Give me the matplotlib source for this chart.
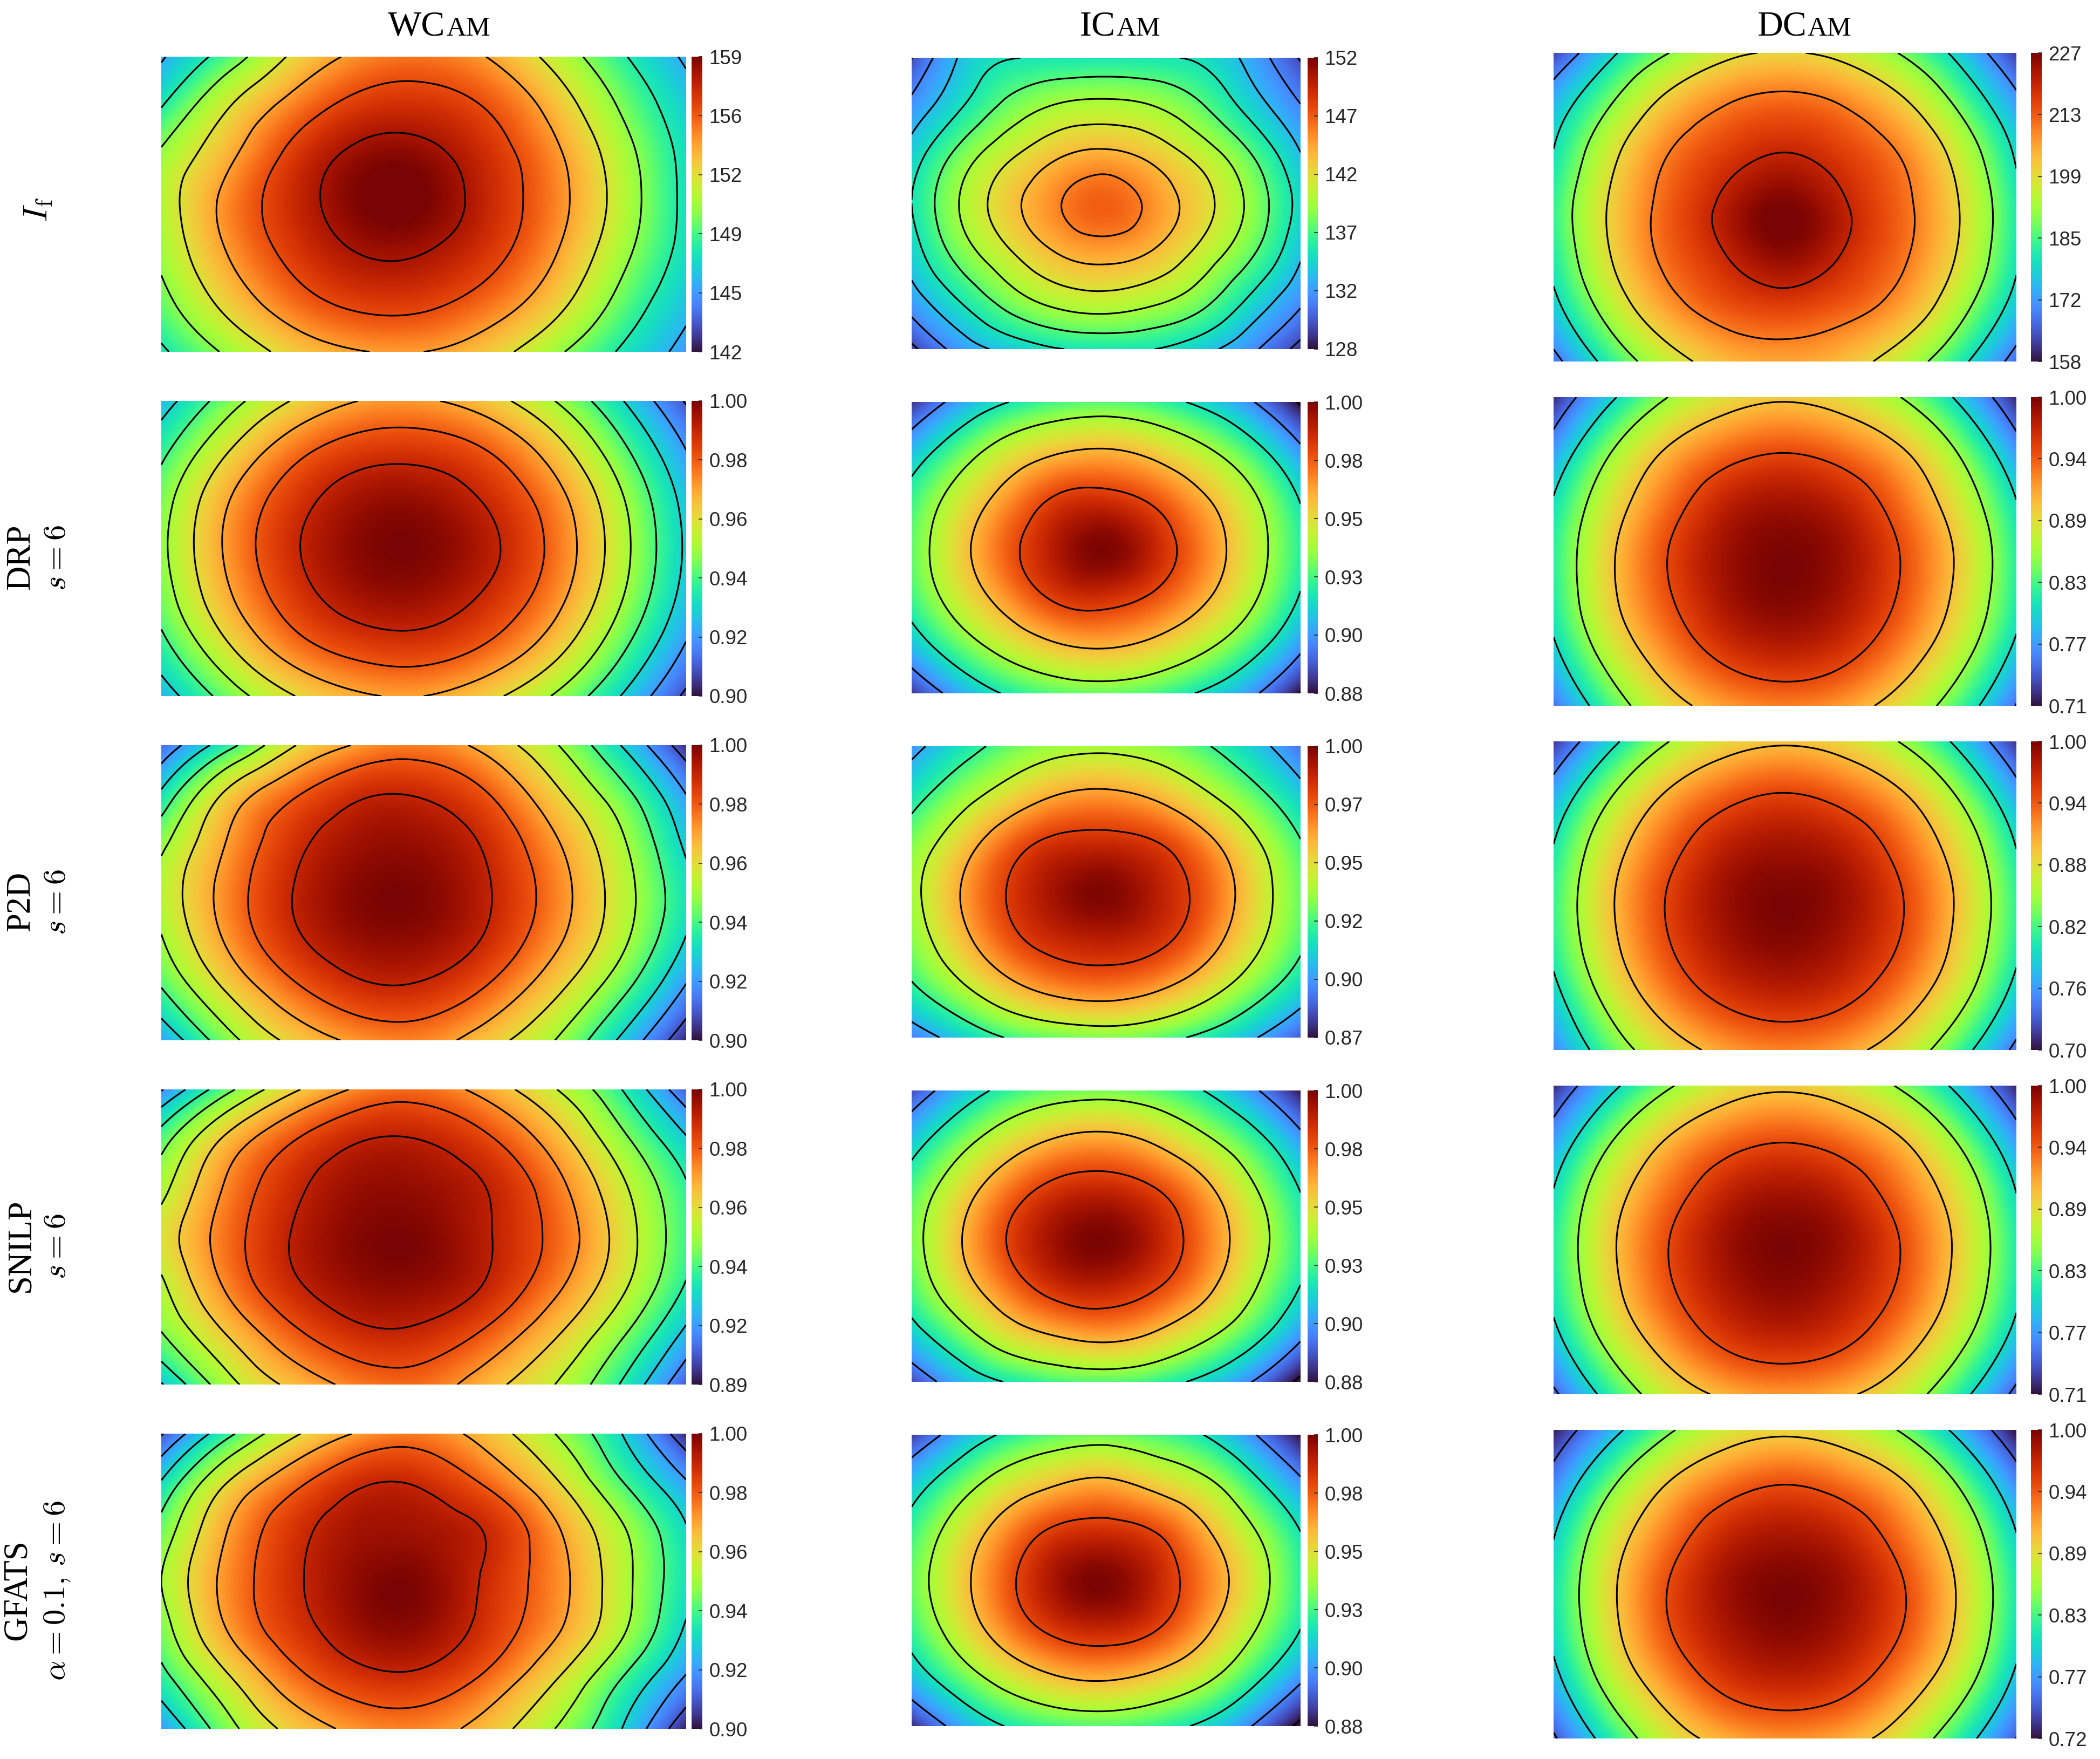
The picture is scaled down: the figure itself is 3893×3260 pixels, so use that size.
import numpy as np
import matplotlib
matplotlib.use('Agg')
import matplotlib.pyplot as plt
import matplotlib.tri as mtri

plt.rcParams['font.family'] = ['Liberation Sans', 'DejaVu Sans']
plt.rcParams['mathtext.fontset'] = 'cm'

# values on a 9 x 7 grid, top row first
wcam_if = [
    [145.8, 148.9, 152.3, 154.4, 155.0, 153.9, 151.3, 148.3, 145.7],
    [147.9, 151.8, 154.7, 156.6, 156.9, 155.8, 153.2, 149.8, 146.8],
    [150.3, 153.5, 156.5, 158.4, 158.5, 156.9, 154.4, 150.9, 147.4],
    [150.9, 154.5, 157.1, 158.9, 159.0, 157.2, 154.7, 151.2, 147.5],
    [150.4, 154.0, 156.5, 158.0, 158.0, 156.6, 154.1, 150.6, 147.3],
    [149.3, 152.6, 155.1, 156.4, 156.4, 155.1, 152.7, 149.4, 146.5],
    [147.7, 150.3, 152.7, 153.9, 154.0, 152.8, 150.4, 147.8, 145.4],
]
wcam_drp = [
    [.925, .945, .9605, .970, .971, .964, .950, .931, .909],
    [.937, .959, .976, .985, .986, .9795, .9645, .943, .920],
    [.945, .969, .9855, .995, .996, .9885, .974, .9515, .9265],
    [.9475, .9715, .9885, .998, .9994, .992, .977, .954, .9285],
    [.9445, .968, .985, .9945, .9955, .988, .9735, .951, .926],
    [.9365, .9585, .9755, .984, .9855, .9785, .964, .9425, .919],
    [.9245, .944, .9595, .9685, .970, .9625, .949, .930, .908],
]
wcam_p2d = [
    [.913, .936, .959, .971, .975, .966, .951, .930, .904],
    [.932, .962, .9785, .9885, .989, .980, .9625, .944, .920],
    [.9475, .9705, .987, .9955, .996, .988, .9715, .952, .928],
    [.953, .974, .990, .9985, .999, .9905, .975, .955, .933],
    [.949, .971, .9875, .996, .9965, .988, .972, .9525, .929],
    [.939, .9605, .977, .987, .9875, .978, .962, .9425, .918],
    [.921, .946, .9625, .972, .974, .964, .950, .9285, .903],
]
wcam_snilp = [
    [.909, .937, .958, .9715, .975, .9655, .9505, .9305, .902],
    [.935, .962, .979, .989, .9895, .981, .9645, .943, .921],
    [.9465, .9715, .9875, .996, .996, .9895, .974, .9525, .931],
    [.9545, .975, .9905, .9985, .999, .9905, .977, .956, .933],
    [.948, .9715, .988, .996, .9965, .9885, .9725, .9525, .929],
    [.939, .960, .977, .987, .987, .977, .961, .9415, .917],
    [.919, .946, .9625, .973, .975, .9635, .950, .9295, .902],
]
wcam_gfats = [
    [.909, .937, .958, .971, .975, .965, .950, .9305, .903],
    [.931, .960, .977, .9885, .9885, .978, .9615, .941, .921],
    [.944, .970, .9865, .995, .995, .989, .972, .952, .931],
    [.950, .973, .988, .9975, .9985, .988, .974, .954, .933],
    [.945, .970, .9855, .9955, .9965, .986, .9715, .952, .9285],
    [.936, .958, .976, .986, .987, .977, .9605, .940, .9185],
    [.920, .946, .963, .9725, .974, .965, .950, .9305, .902],
]
icam_if = [
    [129.9, 134.2, 135.9, 136.1, 136.2, 136.1, 135.6, 133.2, 129.8],
    [132.6, 135.8, 138.6, 140.2, 140.6, 140.0, 138.1, 135.1, 132.1],
    [134.9, 138.7, 141.6, 143.7, 144.5, 143.3, 141.1, 138.0, 134.1],
    [136.0, 140.1, 143.3, 145.8, 147.1, 145.3, 142.7, 139.4, 135.3],
    [135.0, 138.9, 141.8, 144.1, 144.9, 143.8, 141.3, 138.3, 134.3],
    [133.0, 136.1, 138.9, 140.7, 141.2, 140.4, 138.6, 135.5, 132.4],
    [129.5, 132.8, 134.6, 135.9, 136.2, 136.0, 134.6, 132.4, 129.3],
]
icam_drp = [
    [.885, .906, .920, .928, .930, .926, .916, .901, .878],
    [.910, .931, .948, .958, .961, .955, .943, .926, .903],
    [.926, .948, .967, .982, .985, .977, .962, .943, .919],
    [.931, .955, .976, .992, .9995, .988, .970, .948, .924],
    [.927, .949, .968, .983, .986, .978, .963, .943, .919],
    [.911, .932, .948, .959, .962, .956, .944, .927, .904],
    [.886, .907, .922, .930, .932, .928, .918, .903, .879],
]
icam_p2d = [
    [.895, .912, .926, .934, .936, .932, .922, .907, .888],
    [.913, .932, .948, .960, .963, .957, .943, .926, .906],
    [.929, .951, .972, .984, .986, .981, .966, .944, .921],
    [.935, .960, .981, .994, .999, .990, .975, .951, .926],
    [.930, .954, .975, .986, .989, .984, .969, .946, .923],
    [.917, .936, .954, .965, .968, .962, .948, .929, .909],
    [.890, .907, .921, .927, .930, .926, .916, .902, .883],
]
icam_snilp = [
    [.890, .910, .925, .932, .934, .930, .920, .903, .881],
    [.912, .933, .950, .961, .964, .957, .943, .926, .904],
    [.928, .951, .971, .984, .987, .980, .964, .942, .919],
    [.934, .959, .981, .995, .9995, .990, .972, .949, .924],
    [.929, .953, .973, .987, .990, .982, .966, .943, .920],
    [.914, .934, .952, .962, .966, .959, .945, .927, .904],
    [.889, .909, .921, .928, .930, .926, .916, .900, .876],
]
icam_gfats = [
    [.887, .908, .923, .931, .933, .929, .920, .902, .880],
    [.912, .932, .949, .959, .963, .955, .944, .925, .903],
    [.926, .949, .969, .983, .986, .980, .963, .942, .920],
    [.932, .955, .977, .994, .9995, .989, .971, .949, .924],
    [.926, .949, .970, .984, .988, .981, .964, .942, .920],
    [.911, .931, .948, .959, .962, .956, .944, .925, .903],
    [.884, .906, .921, .928, .930, .926, .917, .900, .876],
]
dcam_if = [
    [162.7, 178.5, 190.0, 198.0, 200.4, 197.5, 189.5, 177.5, 162.0],
    [175.0, 190.0, 203.0, 210.0, 212.5, 209.7, 202.0, 188.5, 172.5],
    [180.5, 198.0, 210.3, 217.0, 220.5, 216.7, 209.8, 197.0, 179.0],
    [184.0, 201.2, 213.0, 222.0, 227.0, 221.0, 212.2, 200.2, 182.0],
    [182.2, 200.0, 212.0, 219.8, 224.7, 219.3, 211.2, 199.0, 181.0],
    [177.0, 194.0, 206.6, 213.4, 215.6, 212.6, 206.1, 193.0, 176.0],
    [167.3, 183.7, 196.2, 204.0, 206.2, 203.6, 195.5, 182.7, 166.7],
]
dcam_drp = [
    [.720, .794, .851, .883, .895, .882, .850, .793, .718],
    [.767, .847, .903, .934, .946, .933, .902, .845, .765],
    [.802, .879, .934, .972, .984, .971, .933, .877, .800],
    [.816, .895, .951, .987, .999, .987, .949, .894, .814],
    [.812, .892, .946, .983, .996, .982, .945, .889, .811],
    [.790, .868, .923, .959, .972, .959, .922, .866, .788],
    [.750, .828, .885, .916, .927, .916, .882, .826, .748],
]
dcam_p2d = [
    [.715, .790, .850, .883, .895, .883, .848, .790, .713],
    [.767, .846, .904, .937, .950, .936, .903, .844, .764],
    [.800, .881, .937, .973, .984, .973, .936, .879, .798],
    [.814, .896, .953, .988, .999, .988, .952, .894, .812],
    [.809, .890, .948, .982, .994, .981, .947, .888, .807],
    [.785, .865, .923, .957, .969, .957, .921, .863, .782],
    [.752, .826, .879, .912, .923, .911, .878, .818, .740],
]
dcam_snilp = [
    [.720, .790, .846, .881, .893, .880, .845, .789, .717],
    [.767, .845, .901, .933, .945, .932, .900, .843, .765],
    [.800, .880, .933, .970, .983, .970, .932, .878, .798],
    [.814, .894, .950, .987, .999, .987, .949, .892, .812],
    [.809, .888, .945, .980, .993, .979, .944, .886, .807],
    [.785, .862, .919, .956, .968, .955, .918, .860, .783],
    [.743, .817, .875, .907, .918, .906, .874, .815, .740],
]
dcam_gfats = [
    [.725, .787, .845, .880, .892, .880, .847, .789, .720],
    [.765, .842, .900, .933, .947, .934, .903, .845, .767],
    [.797, .878, .933, .970, .982, .971, .935, .880, .800],
    [.812, .893, .951, .987, .999, .988, .953, .896, .815],
    [.807, .888, .947, .981, .994, .982, .949, .892, .810],
    [.783, .863, .920, .957, .969, .958, .922, .866, .787],
    [.745, .820, .880, .912, .923, .913, .881, .822, .749],
]

# colourbar tick labels, bottom to top
ticks_wcam = [
    ['142', '145', '149', '152', '156', '159'],
    ['0.90', '0.92', '0.94', '0.96', '0.98', '1.00'],
    ['0.90', '0.92', '0.94', '0.96', '0.98', '1.00'],
    ['0.89', '0.92', '0.94', '0.96', '0.98', '1.00'],
    ['0.90', '0.92', '0.94', '0.96', '0.98', '1.00'],
]
ticks_icam = [
    ['128', '132', '137', '142', '147', '152'],
    ['0.88', '0.90', '0.93', '0.95', '0.98', '1.00'],
    ['0.87', '0.90', '0.92', '0.95', '0.97', '1.00'],
    ['0.88', '0.90', '0.93', '0.95', '0.98', '1.00'],
    ['0.88', '0.90', '0.93', '0.95', '0.98', '1.00'],
]
ticks_dcam = [
    ['158', '172', '185', '199', '213', '227'],
    ['0.71', '0.77', '0.83', '0.89', '0.94', '1.00'],
    ['0.70', '0.76', '0.82', '0.88', '0.94', '1.00'],
    ['0.71', '0.77', '0.83', '0.89', '0.94', '1.00'],
    ['0.72', '0.77', '0.83', '0.89', '0.94', '1.00'],
]

# contour levels
levels_wcam_if = [144, 146, 148, 150, 152, 154, 156, 158]
levels_icam_if = [130, 132, 134, 136, 138, 140, 142, 144, 146]
levels_dcam_if = [170, 180, 190, 200, 210, 220]
levels_wcam = [.90, .91, .92, .93, .94, .95, .96, .97, .98, .99]
levels_icam = [.88, .90, .92, .94, .96, .98]
levels_dcam = [.75, .80, .85, .90, .95]

columns = [
    dict(fields=[wcam_if, wcam_drp, wcam_p2d, wcam_snilp, wcam_gfats], ticks=ticks_wcam,
         levels=[levels_wcam_if] + [levels_wcam] * 4,
         x0=299, x1=1272, cx0=1282, cx1=1302, top=105, h=547),
    dict(fields=[icam_if, icam_drp, icam_p2d, icam_snilp, icam_gfats], ticks=ticks_icam,
         levels=[levels_icam_if] + [levels_icam] * 4,
         x0=1690, x1=2411, cx0=2424, cx1=2443, top=107, h=540),
    dict(fields=[dcam_if, dcam_drp, dcam_p2d, dcam_snilp, dcam_gfats], ticks=ticks_dcam,
         levels=[levels_dcam_if] + [levels_dcam] * 4,
         x0=2880, x1=3738, cx0=3765, cx1=3785, top=98, h=572),
]

W, H = 3893, 3260
ROW_STEP = 638
fig = plt.figure(figsize=(W / 100, H / 100), dpi=100)


def add_axes_px(x0, x1, y0, y1):
    return fig.add_axes([x0 / W, 1 - y1 / H, (x1 - x0) / W, (y1 - y0) / H])


def draw_panel(col, row):
    z = np.array(col['fields'][row], dtype=float)
    labels = col['ticks'][row]
    low, high = float(labels[0]), float(labels[-1])
    y0 = col['top'] + row * ROW_STEP
    ax = add_axes_px(col['x0'], col['x1'], y0, y0 + col['h'])

    xs = np.linspace(0, 1, z.shape[1])
    ys = np.linspace(0, 1, z.shape[0])
    X, Y = np.meshgrid(xs, ys)
    tri = mtri.Triangulation(X.ravel(), Y.ravel())
    # library's cubic refiner keeps the coarse grid readable as smooth contours
    tri_fine, z_fine = mtri.UniformTriRefiner(tri).refine_field(z.ravel(), subdiv=4)

    im = ax.tripcolor(tri_fine, z_fine, shading='gouraud', cmap='turbo', vmin=low, vmax=high)
    ax.tricontour(tri_fine, z_fine, levels=col['levels'][row], colors='k', linewidths=2.2)
    ax.set_xlim(0, 1)
    ax.set_ylim(1, 0)
    ax.axis('off')

    cax = add_axes_px(col['cx0'], col['cx1'], y0, y0 + col['h'])
    cb = fig.colorbar(im, cax=cax)
    cb.outline.set_visible(False)
    cb.set_ticks(np.linspace(low, high, len(labels)), labels=labels)
    cb.minorticks_off()
    cax.tick_params(direction='in', length=5, width=1.2, color='#262626', pad=9,
                    labelsize=26.5, labelcolor='#262626')


for col in columns:
    for row in range(5):
        draw_panel(col, row)

renderer = fig.canvas.get_renderer()


def small_caps_title(x, big, small, baseline=66):
    t = fig.text(x / W, 1 - baseline / H, big, fontsize=47.5, family='Liberation Serif', va='baseline')
    right = t.get_window_extent(renderer).x1
    fig.text(right / W + 0.0005, 1 - baseline / H, small, fontsize=36.5,
             family='Liberation Serif', va='baseline')


small_caps_title(719, 'WC', 'AM')
small_caps_title(2002, 'IC', 'AM')
small_caps_title(3257, 'DC', 'AM')


def row_label(x, y, text, size):
    fig.text(x / W, 1 - y / H, text, rotation=90, ha='center', va='center', fontsize=size,
             family='Liberation Serif')


row_label(72, 389, r'$I_{\mathrm{f}}$', 46)
row_label(39, 1032, 'DRP', 45)
row_label(107, 1034, r'$s=6$', 42)
row_label(39, 1670, 'P2D', 45)
row_label(107, 1672, r'$s=6$', 42)
row_label(39, 2308, 'SNILP', 45)
row_label(107, 2310, r'$s=6$', 42)
row_label(33, 2947, 'GFATS', 45)
row_label(106, 2948, r'$\alpha=0.1,\,s=6$', 42)

fig.savefig('out.png', dpi=100)
